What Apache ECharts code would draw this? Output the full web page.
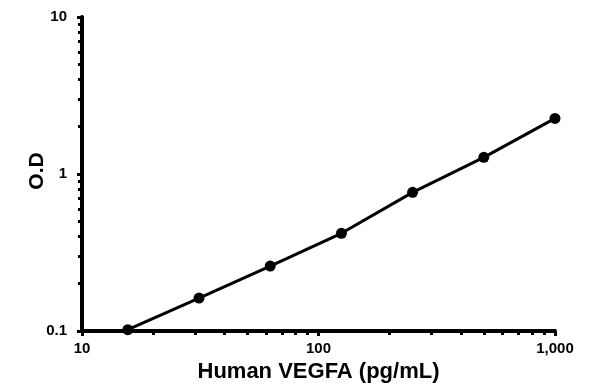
<!DOCTYPE html>
<html><head><meta charset="utf-8">
<script src="https://cdn.jsdelivr.net/npm/echarts@6/dist/echarts.min.js"></script>
<style>html,body{margin:0;padding:0;background:#fff}#c{width:596px;height:391px}</style>
</head><body><div id="c"></div>
<script>
const concentrations = [15.625, 31.25, 62.5, 125, 250, 500, 1000];
const odValues = [0.102, 0.162, 0.259, 0.419, 0.764, 1.277, 2.26];
const xMajorTicks = [10, 100, 1000];
const xMinorTicks = [20, 30, 40, 50, 60, 70, 80, 90, 200, 300, 400, 500, 600, 700, 800, 900];
const yMajorTicks = [0.1, 1, 10];
const yMinorTicks = [0.2, 0.3, 0.4, 0.5, 0.6, 0.7, 0.8, 0.9, 2, 3, 4, 5, 6, 7, 8, 9];
const xTitle = 'Human VEGFA (pg/mL)';
const yTitle = 'O.D';

const font = 'Liberation Sans, Arial, sans-serif';
const chart = echarts.init(document.getElementById('c'));
const fmt = v => Number(v).toLocaleString('en-US');
chart.setOption({
  animation: false,
  grid: [{left: 82, right: 41, top: 17, bottom: 60, containLabel: false, outerBoundsMode: 'none'}],
  xAxis: [{
    type: 'log', min: 10, max: 1000, logBase: 10,
    name: xTitle, nameLocation: 'middle', nameGap: 30, nameMoveOverlap: false,
    nameTextStyle: {fontFamily: font, fontWeight: 'bold', fontSize: 22, color: '#000'},
    axisLine: {lineStyle: {color: '#000', width: 4}},
    axisTick: {show: true, length: 5, customValues: xMajorTicks, lineStyle: {color: '#000', width: 3}},
    axisLabel: {customValues: xMajorTicks, formatter: fmt, fontFamily: font, fontWeight: 'bold', fontSize: 15, color: '#000', margin: 10},
    splitLine: {show: false}
  }, {
    type: 'log', min: 10, max: 1000, logBase: 10, position: 'bottom',
    axisLine: {show: false},
    axisTick: {show: true, length: 4, customValues: xMinorTicks, lineStyle: {color: '#000', width: 3}},
    axisLabel: {show: false},
    splitLine: {show: false}
  }],
  yAxis: [{
    type: 'log', min: 0.1, max: 10, logBase: 10,
    name: yTitle, nameLocation: 'middle', nameGap: 34, nameRotate: 90, nameMoveOverlap: false,
    nameTextStyle: {fontFamily: font, fontWeight: 'bold', fontSize: 21, color: '#000', padding: [0, 0, 0, 6]},
    axisLine: {show: true, lineStyle: {color: '#000', width: 4}},
    axisTick: {show: true, length: 5, customValues: yMajorTicks, lineStyle: {color: '#000', width: 3}},
    axisLabel: {customValues: yMajorTicks, formatter: fmt, fontFamily: font, fontWeight: 'bold', fontSize: 15, color: '#000', margin: 15},
    splitLine: {show: false}
  }, {
    type: 'log', min: 0.1, max: 10, logBase: 10, position: 'left',
    axisLine: {show: false},
    axisTick: {show: true, length: 4, customValues: yMinorTicks, lineStyle: {color: '#000', width: 3}},
    axisLabel: {show: false},
    splitLine: {show: false}
  }],
  series: [{
    type: 'line',
    data: concentrations.map((x, i) => [x, odValues[i]]),
    symbol: 'circle', symbolSize: 11,
    lineStyle: {color: '#000', width: 3},
    itemStyle: {color: '#000'}
  }]
});
</script></body></html>
